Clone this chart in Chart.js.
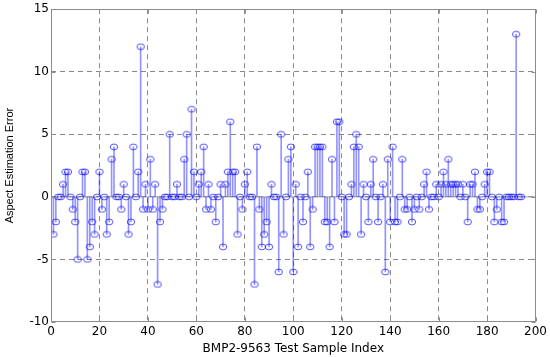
<!DOCTYPE html>
<html>
<head>
<meta charset="utf-8">
<script src="https://cdn.jsdelivr.net/npm/chart.js@4.4.1/dist/chart.umd.min.js"></script>
<style>
  html, body { margin: 0; padding: 0; background: #fff; }
</style>
</head>
<body>
<canvas id="stemChart" width="550" height="357"></canvas>
<script>
// aspect estimation error per test sample (sample index = position + 1)
const errors = [
  -3, -2, 0, 0, 1, 2, 2, 0, -1, -2,
  -5, 0, 2, 2, -5, -4, -2, -3, 0, 2,
  -1, 0, -3, -2, 3, 4, 0, 0, -1, 1,
  0, -3, -2, 4, 0, 2, 12, -1, 1, -1,
  3, -1, 1, -7, -2, -1, 0, 0, 5, 0,
  0, 1, 0, 0, 3, 5, 0, 7, 2, 0,
  1, 2, 4, -1, 1, -1, 0, -2, 0, 1,
  -4, 1, 2, 6, 2, 2, -3, 0, -1, 1,
  2, 0, 0, -7, 4, -1, -4, -3, -2, -4,
  1, 0, 0, -6, 5, -3, 0, 3, 4, -6,
  1, -4, 0, -2, 0, 2, -4, -1, 4, 4,
  4, 4, -2, -2, -4, 3, -2, 6, 6, 0,
  -3, -3, 0, 1, 4, 5, 4, -3, 1, 0,
  -2, 1, 3, 0, -2, 0, 1, -6, 3, -2,
  4, -2, -2, 0, 3, -1, -1, 0, -2, -1,
  0, -1, 0, 1, 2, -1, 0, 0, 1, 0,
  1, 2, 1, 3, 1, 1, 1, 1, 0, 1,
  0, -2, 1, 1, 2, -1, -1, 0, 1, 2,
  2, 0, -2, -1, 0, -2, -2, 0, 0, 0,
  0, 13, 0, 0
];

const xLimits = [0, 200];
const yLimits = [-10, 15];
const xTitle = 'BMP2-9563 Test Sample Index';
const yTitle = 'Aspect Estimation Error';

const stemPoints = errors.map((v, i) => ({ x: i + 1, y: v }));
const baseline = xLimits.map(x => ({ x: x, y: 0 }));

// open ellipse marker like matlab's stem 'o'
function makeMarker() {
    const c = document.createElement('canvas');
    c.width = 10;
    c.height = 8;
    const g = c.getContext('2d');
    g.strokeStyle = 'rgba(0,0,255,0.85)';
    g.lineWidth = 0.8;
    g.beginPath();
    g.ellipse(5, 4, 3.7, 2.9, 0, 0, Math.PI * 2);
    g.stroke();
    return c;
}
const marker = makeMarker();

// box round the plot area + small inward ticks
const boxPlugin = {
    id: 'box',
    afterDatasetsDraw(chart) {
        const a = chart.chartArea;
        const ctx = chart.ctx;
        const L = Math.round(a.left) + 0.5, R = Math.round(a.right) - 0.5;
        const T = Math.round(a.top) + 0.5, B = Math.round(a.bottom) - 0.5;
        ctx.save();
        ctx.strokeStyle = '#8c8c8c';
        ctx.lineWidth = 1;
        ctx.strokeRect(L, T, R - L, B - T);
        ctx.beginPath();
        chart.scales.x.ticks.forEach(t => {
            const px = Math.round(chart.scales.x.getPixelForValue(t.value)) + 0.5;
            ctx.moveTo(px, B); ctx.lineTo(px, B - 4);
            ctx.moveTo(px, T); ctx.lineTo(px, T + 4);
        });
        chart.scales.y.ticks.forEach(t => {
            const py = Math.round(chart.scales.y.getPixelForValue(t.value)) + 0.5;
            ctx.moveTo(L, py); ctx.lineTo(L + 4, py);
            ctx.moveTo(R, py); ctx.lineTo(R - 4, py);
        });
        ctx.stroke();
        ctx.restore();
    }
};

const tickFont = { family: 'DejaVu Sans, sans-serif', size: 12 };
const yTitleFont = { family: 'Liberation Sans, Arial, sans-serif', size: 11 };

function gridColor(ctx) {
    const v = ctx.tick ? ctx.tick.value : null;
    const s = ctx.scale;
    if (v === s.min || v === s.max) return 'rgba(0,0,0,0)';
    return '#8a8a8a';
}

new Chart(document.getElementById('stemChart'), {
    type: 'scatter',
    data: {
        datasets: [
            {
                type: 'line',
                data: baseline,
                borderColor: '#9a9a9a',
                borderWidth: 1,
                pointRadius: 0,
                order: 3
            },
            {
                type: 'bar',
                data: stemPoints,
                backgroundColor: 'rgba(0,0,255,0.42)',
                barThickness: 1,
                order: 2
            },
            {
                type: 'scatter',
                data: stemPoints,
                pointStyle: marker,
                pointRadius: 4,
                order: 1
            }
        ]
    },
    options: {
        responsive: false,
        animation: false,
        layout: { padding: { top: 9, right: 14, left: 0, bottom: 0 } },
        plugins: {
            legend: { display: false },
            tooltip: { enabled: false }
        },
        scales: {
            x: {
                type: 'linear',
                min: xLimits[0],
                max: xLimits[1],
                offset: false,
                ticks: { stepSize: 20, color: '#000', font: tickFont, padding: 3, maxRotation: 0 },
                grid: { color: gridColor, drawTicks: false, offset: false },
                border: { display: false, dash: [5, 4] },
                title: { display: true, text: xTitle, color: '#000', font: tickFont, padding: { top: 0, bottom: 1 } },
                afterFit(scale) { scale.height = 35; }
            },
            y: {
                min: yLimits[0],
                max: yLimits[1],
                ticks: { stepSize: 5, color: '#000', font: tickFont, padding: 2 },
                grid: { color: gridColor, drawTicks: false },
                border: { display: false, dash: [5, 4] },
                title: { display: true, text: yTitle, color: '#000', font: yTitleFont, padding: { top: 3, bottom: 0 } },
                afterFit(scale) { scale.width = 51; }
            }
        }
    },
    plugins: [boxPlugin]
});
</script>
</body>
</html>
